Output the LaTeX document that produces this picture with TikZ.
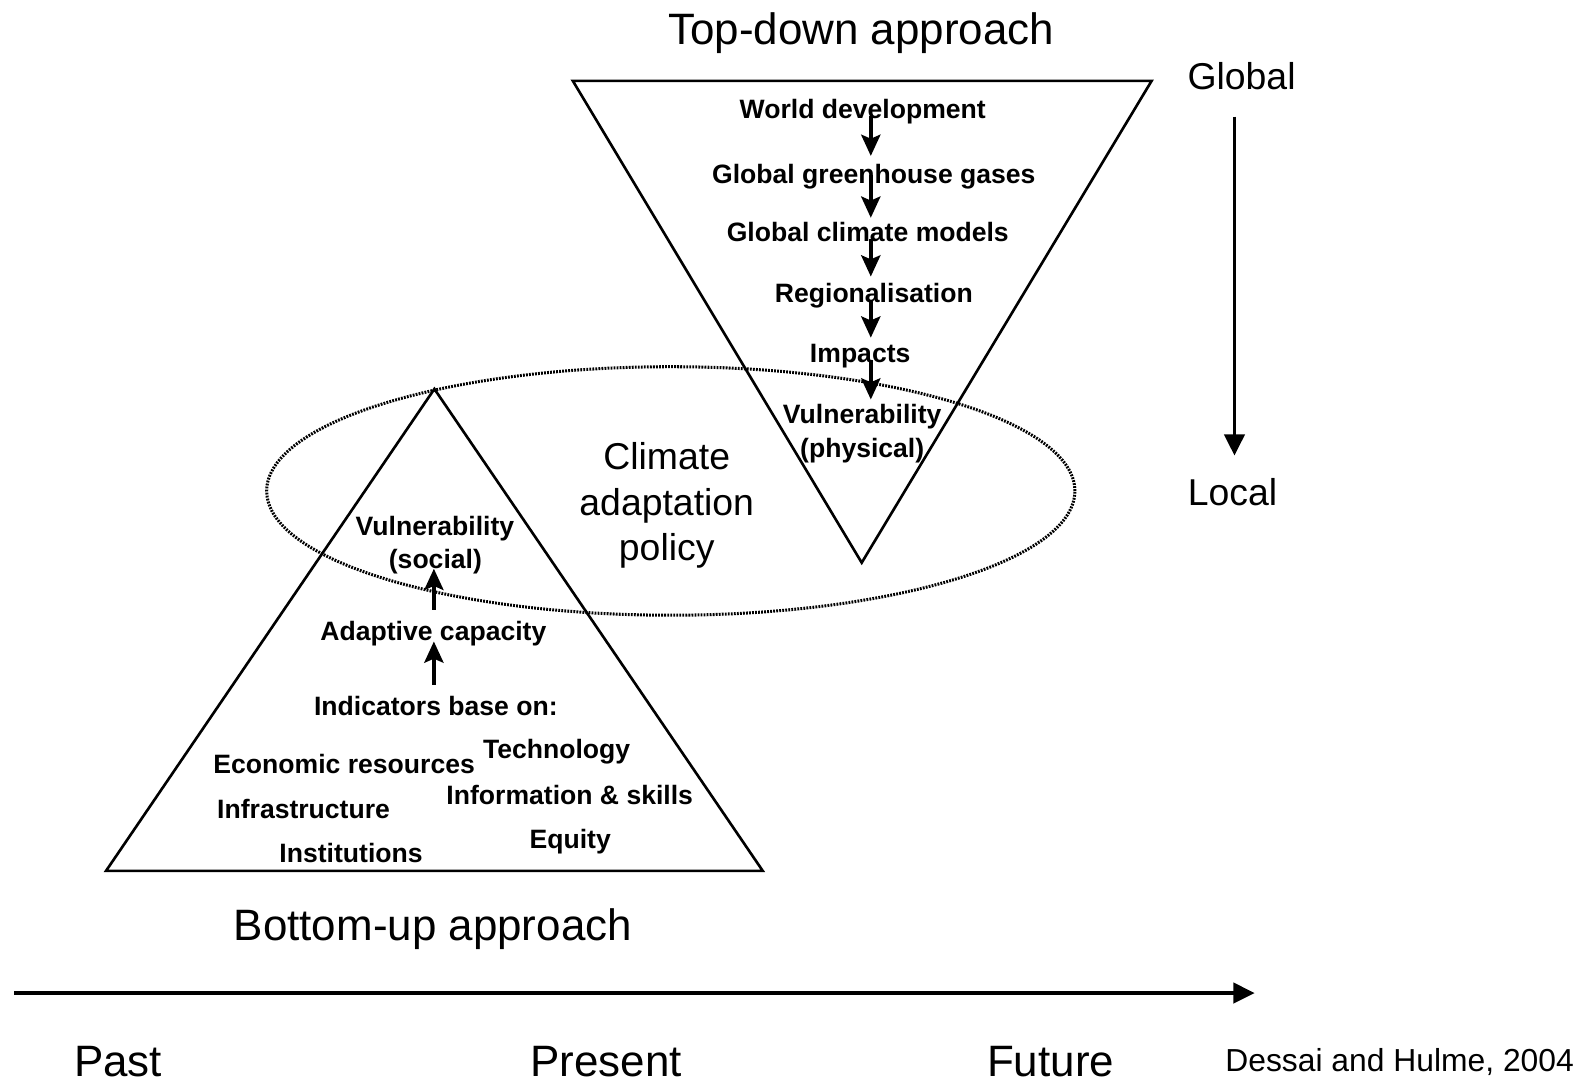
\documentclass[tikz,border=0pt]{standalone}
\usepackage{fontspec}
\setmainfont{Liberation Sans}
\usetikzlibrary{arrows.meta,calc,shapes.geometric}
\tikzset{
  big/.style={font=\fontsize{43.5}{50}\selectfont, inner sep=0pt, anchor=base},
  mid/.style={font=\fontsize{37}{45}\selectfont, inner sep=0pt, anchor=base, align=center},
  lbl/.style={font=\bfseries\fontsize{26.3}{33}\selectfont, inner sep=0pt, anchor=base},
  note/.style={font=\fontsize{31.5}{36}\selectfont, inner sep=0pt, anchor=base},
  edgeline/.style={line width=2.6pt, line join=miter},
  arr/.style={line width=3.6pt, -{Stealth[length=21pt,width=19pt,inset=4pt]}},
  bigarr/.style={line width=3.4pt, -{Triangle[length=21pt,width=20pt]}},
  dots/.style={line width=3pt, dash pattern=on 1.8pt off 1.2pt},
}
\begin{document}
\begin{tikzpicture}[x=1pt,y=-1pt]
\useasboundingbox (0,0) rectangle (1568,1072);
\fill[white] (0,0) rectangle (1568,1072);

% titles
\node[big] (td) at (852.5,44.5) {Top-down approach};
\node[big] (bu) at (428.5,930.5) {Bottom-up approach};

% inverted triangle
\coordinate (itl) at (567,80);
\coordinate (itr) at (1140,80);
\coordinate (ita) at (853,557);
\draw[edgeline] (itl) -- (itr) -- (ita) -- cycle;

% upright triangle
\coordinate (uta) at (430,385);
\coordinate (utl) at (105,862);
\coordinate (utr) at (755,862);
\draw[edgeline] (uta) -- (utr) -- (utl) -- cycle;

% policy ellipse
\node[dots, draw, ellipse, minimum width=800pt, minimum height=246pt, inner sep=0pt] (pol) at (664,486) {};
\node[mid] (cap) at (660,555) {Climate\\adaptation\\policy};

% top-down chain
\coordinate (ax) at (862,0);
\node[lbl] (wd)  at (854,117)   {World development};
\node[lbl] (ggg) at (865,181.6) {Global greenhouse gases};
\node[lbl] (gcm) at (859,238.8) {Global climate models};
\node[lbl] (reg) at (865,299)   {Regionalisation};
\node[lbl] (imp) at (851.5,358.5) {Impacts};
\node[lbl] (vp1) at (853.5,419.7) {Vulnerability};
\node[lbl] (vp2) at (853.5,452.7) {(physical)};
\draw[arr] ($(wd.base -| ax)+(0,-2)$)  -- ($(ggg.north -| ax)+(0,-8)$);
\draw[arr] ($(ggg.base -| ax)+(0,-8)$) -- ($(gcm.north -| ax)+(0,-4)$);
\draw[arr] ($(gcm.base -| ax)+(0,-2)$) -- ($(reg.north -| ax)+(0,-6)$);
\draw[arr] ($(reg.base -| ax)+(0,-2)$) -- ($(imp.north -| ax)+(0,-6)$);
\draw[arr] ($(imp.base -| ax)+(0,-2)$) -- ($(vp1.north -| ax)+(0,-5)$);

% bottom-up chain
\coordinate (bx) at (429.5,0);
\node[lbl] (vs1) at (430.5,530) {Vulnerability};
\node[lbl] (vs2) at (431,563) {(social)};
\node[lbl] (adc) at (429,634) {Adaptive capacity};
\node[lbl] (ind) at (431.5,708) {Indicators base on:};
\draw[arr] ($(ind.north -| bx)+(0,-11)$) -- ($(adc.base -| bx)+(0,1)$);
\draw[arr] ($(adc.north -| bx)+(0,-11)$) -- ($(vs2.base -| bx)+(0,0)$);

\node[lbl] (tec) at (551,751)   {Technology};
\node[lbl] (eco) at (340.7,766) {Economic resources};
\node[lbl] (inf) at (564,796)   {Information \& skills};
\node[lbl] (ifr) at (300.5,810.5) {Infrastructure};
\node[lbl] (equ) at (564.5,840) {Equity};
\node[lbl] (ins) at (347.5,853.7) {Institutions};

% global -> local
\node[mid] (glob) at (1229,89) {Global};
\node[mid] (loc) at (1220,500) {Local};
\draw[bigarr] ($(glob.south)+(-7,26)$) -- ($(loc.north)+(2,-22)$);

% time axis
\coordinate (t0) at (14,983);
\coordinate (t1) at (1242,983);
\draw[bigarr] (t0) -- (t1);
\node[big] (past) at (117,1066) {Past};
\node[big] (pres) at (600,1066) {Present};
\node[big] (fut) at (1040,1066) {Future};
\node[note] (src) at (1385.5,1061) {Dessai and Hulme, 2004};
\end{tikzpicture}
\end{document}
